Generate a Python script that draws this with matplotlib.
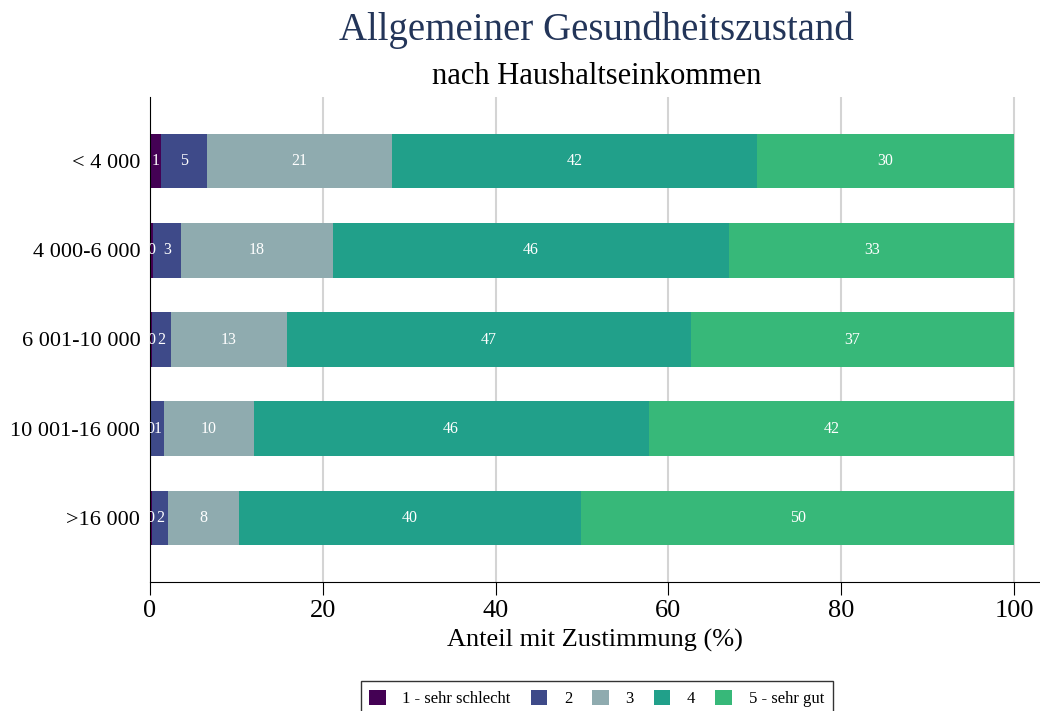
import numpy as np
import matplotlib.pyplot as plt

# Data
groups = ['< 4 000', '4 000-6 000', '6 001-10 000', '10 001-16 000', '>16 000']
levels = ['1 - sehr schlecht', '2', '3', '4', '5 - sehr gut']
v1 = [1.3, 0.35, 0.25, 0.15, 0.2]
v2 = [5.3, 3.2, 2.15, 1.45, 1.9]
v3 = [21.4, 17.6, 13.4, 10.4, 8.2]
v4 = [42.2, 45.9, 46.8, 45.7, 39.6]
v5 = [29.8, 32.95, 37.4, 42.3, 50.1]
colors = ['#440154', '#3e4a89', '#8fabaf', '#21a08a', '#37b879']

plt.rcParams['font.family'] = ['Liberation Serif', 'DejaVu Serif']

fig = plt.figure(figsize=(10.4, 7.11), dpi=100)
ax = fig.add_axes([150 / 1040, 1 - 582 / 711, 890 / 1040, 485 / 711])

y = np.arange(1, len(groups) + 1)
left = np.zeros(len(groups))
for vals, lab, col in zip([v1, v2, v3, v4, v5], levels, colors):
    vals = np.array(vals)
    ax.barh(y, vals, left=left, height=0.61, color=col, label=lab, zorder=2)
    for yi, l, v in zip(y, left, vals):
        ax.text(l + v / 2, yi, '%.0f' % v, color='white', ha='center', va='center',
                fontsize=11.5, zorder=3, clip_on=True)
    left += vals

ax.set_xlim(0, 103)
ax.set_ylim(5.72, 0.28)
ax.set_yticks(y)
ax.set_yticklabels(groups, fontsize=16)
ax.tick_params(axis='y', length=0, pad=7)
ax.set_xticks([0, 20, 40, 60, 80, 100])
ax.tick_params(axis='x', labelsize=19, length=9, pad=4)
ax.xaxis.grid(True, color='#d4d4d4', linewidth=1.5, zorder=0)
ax.set_axisbelow(True)
ax.spines['top'].set_visible(False)
ax.spines['right'].set_visible(False)
ax.set_xlabel('Anteil mit Zustimmung (%)', fontsize=19, labelpad=5)

fig.text(0.5736, 0.958, 'Allgemeiner Gesundheitszustand', ha='center', va='center',
         fontsize=28, color='#233559')
fig.text(0.5736, 0.893, 'nach Haushaltseinkommen', ha='center', va='center', fontsize=22)

leg = fig.legend(loc='upper center', bbox_to_anchor=(0.5736, 1 - 673 / 711), ncol=5,
                 fontsize=12, frameon=True, fancybox=False, edgecolor='black',
                 handlelength=1.0, handleheight=1.0, handletextpad=1.0,
                 columnspacing=1.2, borderpad=0.5)
leg.get_frame().set_linewidth(1)

fig.savefig('out.png', dpi=100)
